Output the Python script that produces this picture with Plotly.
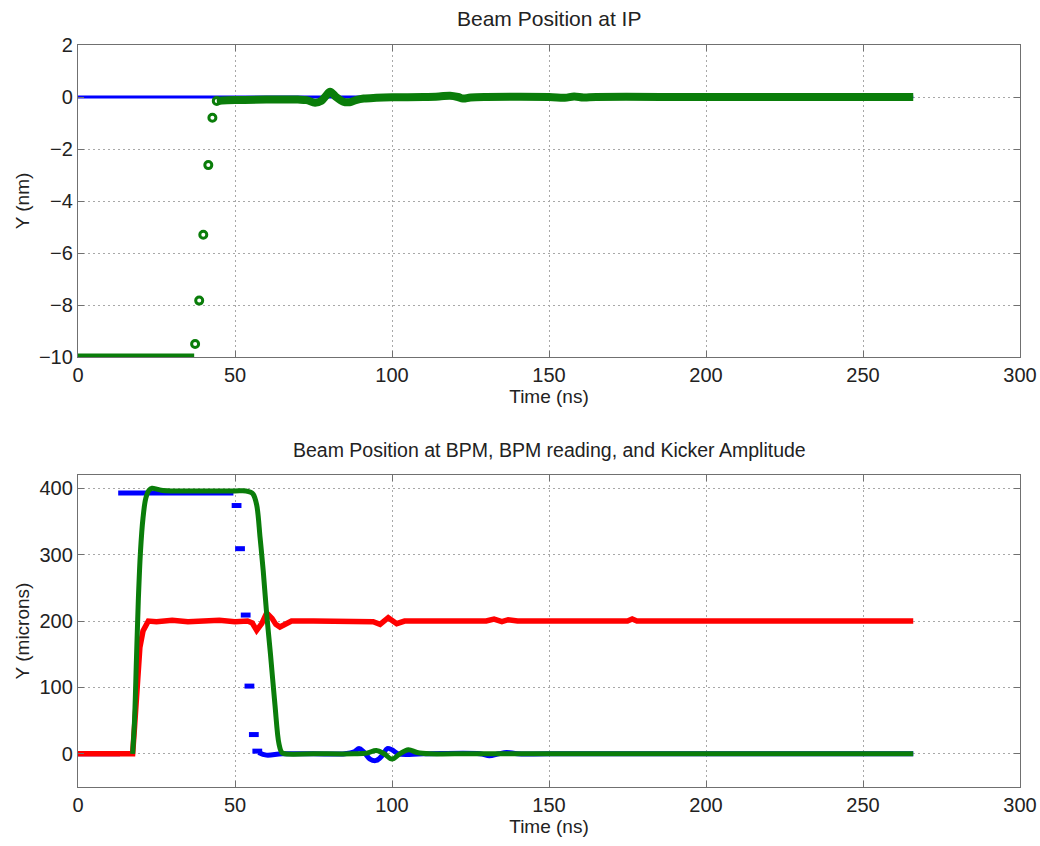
import plotly.graph_objects as go

# ---------------- Top panel: Beam Position at IP ----------------
ip_blue_t = [0, 266]
ip_blue_y = [0, 0]

ip_pre_t = [0, 37]
ip_pre_y = [-10, -10]

ip_jump_t = [37.3, 38.6, 39.9, 41.5, 42.8, 44.2]
ip_jump_y = [-9.5, -7.83, -5.3, -2.62, -0.8, -0.15]

ip_settle_t = [44.2, 50, 60, 70, 72.8, 75.5, 77.5, 79, 80.3, 82, 84.5, 86.5, 88.5, 91, 95, 100,
               110, 115, 118.5, 121, 122.6, 125, 130, 150, 155, 158, 161, 165, 200, 266]
ip_settle_y = [-0.15, -0.12, -0.1, -0.1, -0.12, -0.22, -0.15, 0.05, 0.2, 0.02, -0.18, -0.2, -0.12, -0.06, -0.03, -0.01,
               0.0, 0.02, 0.05, 0.0, -0.06, -0.02, 0.0, 0.0, -0.03, 0.02, -0.02, 0.0, 0.0, 0.0]

# ---------------- Bottom panel: BPM ----------------
bpm_blue_pre_t = [0, 13.4]
bpm_blue_pre_y = [0, 0]
bpm_blue_flat_t = [12.8, 49.5]
bpm_blue_flat_y = [393, 393]
bpm_blue_pts_t = [50.5, 51.6, 53.4, 54.6, 56.0, 57.1]
bpm_blue_pts_y = [374, 309, 209, 102, 29, 4]
bpm_blue_tail_t = [57.5, 60, 65, 75, 85, 88, 89.5, 91, 93, 95, 97, 98.5, 100, 102, 110,
                   128, 131, 134, 136.5, 140, 150, 266]
bpm_blue_tail_y = [2, -2, 0, 0, 0, 3, 8, 3, -8, -10, -2, 8, 6, 0, 0,
                   0, -3, 0, 2, 0, 0, 0]

red_t = [0, 17.4, 18.0, 18.7, 19.7, 20.7, 21.6, 22.4, 25, 30, 35, 40, 45, 50, 54, 55.5, 56.9, 58.5,
         60.1, 61.8, 63, 64.3, 66, 68, 75, 90, 94, 96.2, 98.8, 101.5, 104, 110, 130, 132.5, 135, 137,
         140, 175, 176.5, 178, 200, 266]
red_y = [0, 0, 40, 100, 160, 185, 195, 200, 199, 201, 199, 200, 201, 199, 200, 197, 186, 196,
         212, 204, 195, 191, 196, 200, 200, 200, 199, 195, 205, 196, 200, 200, 200, 203, 199, 202,
         200, 200, 203, 200, 200, 200]

green_t = [17.4, 18.0, 18.6, 19.2, 19.9, 20.7, 21.6, 22.6, 23.6, 24.8, 26.5, 30, 40, 50, 53.5, 55,
           55.8, 56.9, 58, 59, 60.1, 61.3, 62.7, 64, 64.9, 66, 75, 88, 92, 95, 97.5, 100, 102.5,
           105.2, 108, 112, 120, 266]
green_y = [0, 50, 140, 230, 305, 355, 385, 397, 400, 399, 397, 396, 396, 396, 396, 394,
           391, 375, 325, 275, 210, 150, 75, 15, 2, 0, 0, 0, 1, 5, 0, -8, 0,
           6, 2, 0, 0, 0]

BLUE = "#0000ff"
RED = "#ff0000"
GREEN = "#0a7d0a"

fig = go.Figure()

# top
fig.add_trace(go.Scatter(x=ip_blue_t, y=ip_blue_y, mode="lines", line=dict(color=BLUE, width=3),
                         xaxis="x", yaxis="y"))
fig.add_trace(go.Scatter(x=ip_pre_t, y=ip_pre_y, mode="lines", line=dict(color=GREEN, width=7),
                         xaxis="x", yaxis="y"))
fig.add_trace(go.Scatter(x=ip_jump_t, y=ip_jump_y, mode="markers",
                         marker=dict(symbol="circle-open", size=7, color=GREEN, line=dict(width=3, color=GREEN)),
                         xaxis="x", yaxis="y"))
fig.add_trace(go.Scatter(x=ip_settle_t, y=ip_settle_y, mode="lines", line=dict(color=GREEN, width=8, shape="spline"),
                         xaxis="x", yaxis="y"))

# bottom
fig.add_trace(go.Scatter(x=bpm_blue_pre_t, y=bpm_blue_pre_y, mode="lines", line=dict(color=BLUE, width=5),
                         xaxis="x2", yaxis="y2"))
fig.add_trace(go.Scatter(x=red_t, y=red_y, mode="lines", line=dict(color=RED, width=5.5),
                         xaxis="x2", yaxis="y2"))
fig.add_trace(go.Scatter(x=bpm_blue_flat_t, y=bpm_blue_flat_y, mode="lines", line=dict(color=BLUE, width=5),
                         xaxis="x2", yaxis="y2"))
fig.add_trace(go.Scatter(x=bpm_blue_pts_t, y=bpm_blue_pts_y, mode="markers",
                         marker=dict(symbol="line-ew", size=7, color=BLUE, line=dict(width=5, color=BLUE)),
                         xaxis="x2", yaxis="y2"))
fig.add_trace(go.Scatter(x=bpm_blue_tail_t, y=bpm_blue_tail_y, mode="lines", line=dict(color=BLUE, width=5, shape="spline"),
                         xaxis="x2", yaxis="y2"))
fig.add_trace(go.Scatter(x=green_t, y=green_y, mode="lines", line=dict(color=GREEN, width=5, shape="spline"),
                         xaxis="x2", yaxis="y2"))

FONT = "Liberation Sans, Arial, sans-serif"
TXT = "#222222"
axis_common = dict(
    showline=True, linecolor="#707070", linewidth=1.3, mirror="ticks",
    ticks="inside", ticklen=6, tickcolor="#707070", automargin=False,
    showgrid=True, gridcolor="#a8a8a8", griddash="2px,3px", gridwidth=1,
    zeroline=False, tickfont=dict(family=FONT, size=20, color=TXT),
)

fig.update_layout(
    width=1040, height=846,
    margin=dict(l=78, r=20, t=45, b=59),
    paper_bgcolor="white", plot_bgcolor="white",
    showlegend=False,
    xaxis=dict(domain=[0, 1], range=[0, 300], tickvals=[0, 50, 100, 150, 200, 250, 300], anchor="y",
               title=dict(text="Time (ns)", font=dict(family=FONT, size=19, color=TXT), standoff=4), **axis_common),
    yaxis=dict(domain=[0.5795, 1], range=[-10, 2], tickvals=[-10, -8, -6, -4, -2, 0, 2], anchor="x",
               title=dict(text="Y (nm)", font=dict(family=FONT, size=19, color=TXT), standoff=4), **axis_common),
    xaxis2=dict(domain=[0, 1], range=[0, 300], tickvals=[0, 50, 100, 150, 200, 250, 300], anchor="y2",
                title=dict(text="Time (ns)", font=dict(family=FONT, size=19, color=TXT), standoff=4), **axis_common),
    yaxis2=dict(domain=[0, 0.4205], range=[-50, 420], tickvals=[0, 100, 200, 300, 400], anchor="x2",
                title=dict(text="Y (microns)", font=dict(family=FONT, size=19, color=TXT), standoff=4), **axis_common),
    annotations=[
        dict(text="Beam Position at IP", x=0.5, y=1.036, xref="paper", yref="paper", showarrow=False,
             xanchor="center", yanchor="middle", font=dict(family=FONT, size=21, color=TXT)),
        dict(text="Beam Position at BPM, BPM reading, and Kicker Amplitude", x=0.5, y=0.454,
             xref="paper", yref="paper", showarrow=False, xanchor="center", yanchor="middle",
             font=dict(family=FONT, size=19.5, color=TXT)),
    ],
)

fig.write_html("out.html")
